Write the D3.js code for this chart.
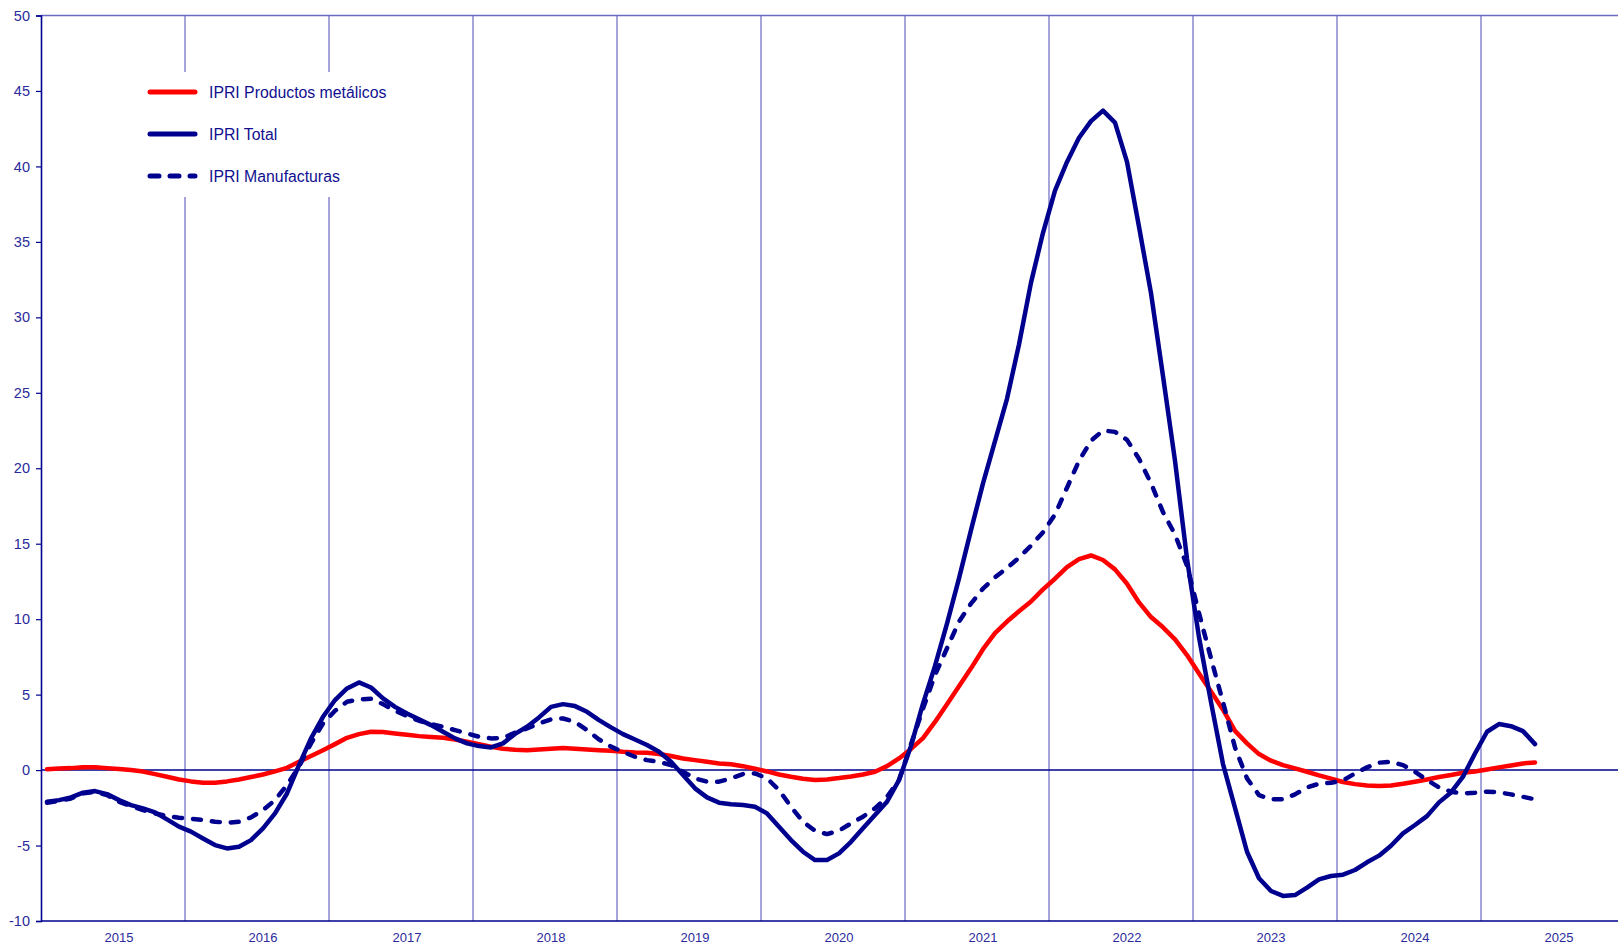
<!DOCTYPE html>
<html>
<head>
<meta charset="utf-8">
<script src="https://cdn.jsdelivr.net/npm/d3@7"></script>
<style>
  html, body { margin: 0; padding: 0; background: #ffffff; }
  svg { display: block; font-family: Arial, "Liberation Sans", sans-serif; }
</style>
</head>
<body>
<svg id="chart" width="1618" height="945"></svg>
<script>
// ---- Data (monthly, Jan 2015 .. May 2025) ----
const years = ["2015","2016","2017","2018","2019","2020","2021","2022","2023","2024","2025"];
const yTicks = [-10, -5, 0, 5, 10, 15, 20, 25, 30, 35, 40, 45, 50];
const seriesNames = ["IPRI Productos metálicos", "IPRI Total", "IPRI Manufacturas"];

const metalicos = [
  0.05, 0.1, 0.13, 0.18, 0.18, 0.13, 0.07, 0.0, -0.1, -0.27, -0.44, -0.62,
  -0.75, -0.84, -0.84, -0.75, -0.62, -0.46, -0.29, -0.09, 0.15, 0.55, 0.93, 1.32,
  1.72, 2.14, 2.38, 2.54, 2.52, 2.43, 2.34, 2.25, 2.2, 2.14, 2.03, 1.88,
  1.72, 1.55, 1.41, 1.35, 1.32, 1.37, 1.41, 1.46, 1.41, 1.37, 1.32, 1.28,
  1.21, 1.17, 1.15, 1.06, 0.93, 0.77, 0.66, 0.55, 0.44, 0.38, 0.26, 0.09,
  -0.09, -0.29, -0.44, -0.57, -0.66, -0.62, -0.53, -0.42, -0.29, -0.11, 0.26, 0.77,
  1.4, 2.12, 3.19, 4.37, 5.55, 6.74, 8.01, 9.07, 9.84, 10.52, 11.17, 11.97,
  12.68, 13.45, 13.98, 14.22, 13.92, 13.3, 12.35, 11.11, 10.14, 9.46, 8.66, 7.62,
  6.4, 5.2, 4.0, 2.6, 1.77, 1.06, 0.62, 0.33, 0.11, -0.11, -0.35, -0.57,
  -0.79, -0.93, -1.02, -1.06, -1.02, -0.91, -0.77, -0.62, -0.46, -0.33, -0.18, -0.09,
  0.04, 0.18, 0.31, 0.44, 0.51
];

const total = [
  -2.1, -1.99, -1.81, -1.5, -1.39, -1.59, -1.99, -2.32, -2.54, -2.8, -3.27, -3.75,
  -4.08, -4.53, -4.97, -5.19, -5.08, -4.64, -3.86, -2.87, -1.55, 0.33, 2.1, 3.53,
  4.64, 5.41, 5.81, 5.47, 4.75, 4.19, 3.75, 3.36, 2.98, 2.54, 2.1, 1.77,
  1.59, 1.5, 1.77, 2.4, 2.87, 3.49, 4.19, 4.37, 4.24, 3.86, 3.31, 2.83,
  2.38, 2.03, 1.66, 1.21, 0.55, -0.33, -1.21, -1.81, -2.16, -2.27, -2.32, -2.43,
  -2.87, -3.75, -4.64, -5.41, -5.96, -5.96, -5.52, -4.75, -3.86, -2.98, -2.1, -0.66,
  1.6, 4.4, 6.9, 9.7, 12.7, 15.9, 19.0, 21.8, 24.6, 28.2, 32.3, 35.6,
  38.4, 40.3, 41.9, 43.0, 43.7, 42.9, 40.3, 36.0, 31.6, 26.1, 20.5, 14.0,
  8.8, 4.5, 0.4, -2.5, -5.41, -7.17, -8.01, -8.34, -8.28, -7.79, -7.24, -7.02,
  -6.93, -6.62, -6.11, -5.67, -5.01, -4.19, -3.64, -3.05, -2.14, -1.48, -0.44, 1.1,
  2.54, 3.05, 2.91, 2.58, 1.72
];

const manufacturas = [
  -2.16, -2.05, -1.88, -1.55, -1.43, -1.66, -2.1, -2.38, -2.65, -2.87, -3.05, -3.16,
  -3.22, -3.31, -3.42, -3.49, -3.42, -3.13, -2.65, -1.99, -0.99, 0.22, 1.77, 3.09,
  3.93, 4.53, 4.68, 4.72, 4.37, 3.93, 3.58, 3.27, 3.05, 2.87, 2.65, 2.43,
  2.21, 2.1, 2.12, 2.48, 2.76, 3.09, 3.36, 3.42, 3.2, 2.65, 2.03, 1.55,
  1.21, 0.88, 0.66, 0.55, 0.33, -0.11, -0.55, -0.77, -0.77, -0.55, -0.26, -0.22,
  -0.55, -1.32, -2.43, -3.42, -4.02, -4.24, -4.02, -3.53, -3.09, -2.54, -1.77, -0.66,
  1.7, 4.07, 6.3, 8.07, 9.84, 11.03, 12.03, 12.77, 13.39, 14.07, 14.87, 15.76,
  16.94, 18.71, 20.49, 21.82, 22.5, 22.41, 21.88, 20.63, 19.01, 17.09, 15.61, 13.54,
  10.4, 7.4, 4.5, 1.5, -0.55, -1.66, -1.94, -1.94, -1.61, -1.15, -0.9, -0.84,
  -0.68, -0.22, 0.18, 0.49, 0.55, 0.33, -0.11, -0.66, -1.15, -1.43, -1.55, -1.5,
  -1.43, -1.48, -1.61, -1.77, -1.94
];

// ---- Layout ----
const W = 1618;
const plotLeft = 41, plotTop = 15.5, plotBottom = 921;
const monthsSpan = years.length * 12;

const svg = d3.select("#chart");

const x = d3.scaleLinear().domain([0, monthsSpan]).range([plotLeft, plotLeft + monthsSpan * 12]);
const y = d3.scaleLinear().domain([-10, 50]).range([plotBottom, plotTop]);

const NAVY = "#00008f";
const GRID = "#6a6ac4";
const LABEL = "#2a2a9c";

// Vertical year gridlines
svg.append("g").selectAll("line")
  .data(d3.range(1, years.length))
  .join("line")
  .attr("x1", d => x(d * 12)).attr("x2", d => x(d * 12))
  .attr("y1", y(50)).attr("y2", y(-10))
  .attr("stroke", GRID).attr("stroke-width", 1.2);

// Top border
svg.append("line")
  .attr("x1", plotLeft).attr("x2", W + 10)
  .attr("y1", y(50)).attr("y2", y(50))
  .attr("stroke", GRID).attr("stroke-width", 1.4);

// Bottom axis line
svg.append("line")
  .attr("x1", plotLeft).attr("x2", W + 10)
  .attr("y1", y(-10)).attr("y2", y(-10))
  .attr("stroke", NAVY).attr("stroke-width", 1.3);

// Zero line
svg.append("line")
  .attr("x1", plotLeft).attr("x2", W + 10)
  .attr("y1", y(0)).attr("y2", y(0))
  .attr("stroke", NAVY).attr("stroke-width", 1.5);

// Y axis
const yAxis = d3.axisLeft(y).tickValues(yTicks).tickSize(5).tickPadding(6)
  .tickFormat(d => String(d));
const gy = svg.append("g").attr("transform", `translate(${plotLeft},0)`).call(yAxis);
gy.select(".domain").attr("stroke", NAVY).attr("stroke-width", 1.6);
gy.selectAll(".tick line").attr("stroke", NAVY).attr("stroke-width", 1.2);
gy.selectAll(".tick text")
  .attr("fill", LABEL).attr("font-size", 14.5)
  .attr("font-family", "Arial, 'Liberation Sans', sans-serif");

// X year labels
svg.append("g").selectAll("text")
  .data(years)
  .join("text")
  .attr("x", (d, i) => x(i * 12 + 6.5))
  .attr("y", 942)
  .attr("text-anchor", "middle")
  .attr("fill", LABEL)
  .attr("font-size", 13)
  .text(d => d);

// Legend white background (hides gridlines)
svg.append("rect")
  .attr("x", 135).attr("y", 72).attr("width", 265).attr("height", 125)
  .attr("fill", "#ffffff");

// Lines
const line = d3.line()
  .x((d, i) => x(i + 0.5))
  .y(d => y(d));

const series = [
  { name: seriesNames[0], values: metalicos, color: "#ff0000", dash: null },
  { name: seriesNames[1], values: total, color: NAVY, dash: null },
  { name: seriesNames[2], values: manufacturas, color: NAVY, dash: "8,11" }
];

series.forEach(s => {
  svg.append("path")
    .datum(s.values)
    .attr("d", line)
    .attr("fill", "none")
    .attr("stroke", s.color)
    .attr("stroke-width", 4.5)
    .attr("stroke-linejoin", "round")
    .attr("stroke-linecap", "round")
    .attr("stroke-dasharray", s.dash);
});

// Legend
const legendRows = [92, 134, 176];
const lg = svg.append("g");
series.forEach((s, i) => {
  lg.append("line")
    .attr("x1", 150).attr("x2", 195)
    .attr("y1", legendRows[i]).attr("y2", legendRows[i])
    .attr("stroke", s.color)
    .attr("stroke-width", 5)
    .attr("stroke-linecap", "round")
    .attr("stroke-dasharray", s.dash ? "9,11" : null);
  lg.append("text")
    .attr("x", 209).attr("y", legendRows[i])
    .attr("dy", "0.36em")
    .attr("fill", "#101090")
    .attr("font-size", 15.8)
    .text(s.name);
});
</script>
</body>
</html>
